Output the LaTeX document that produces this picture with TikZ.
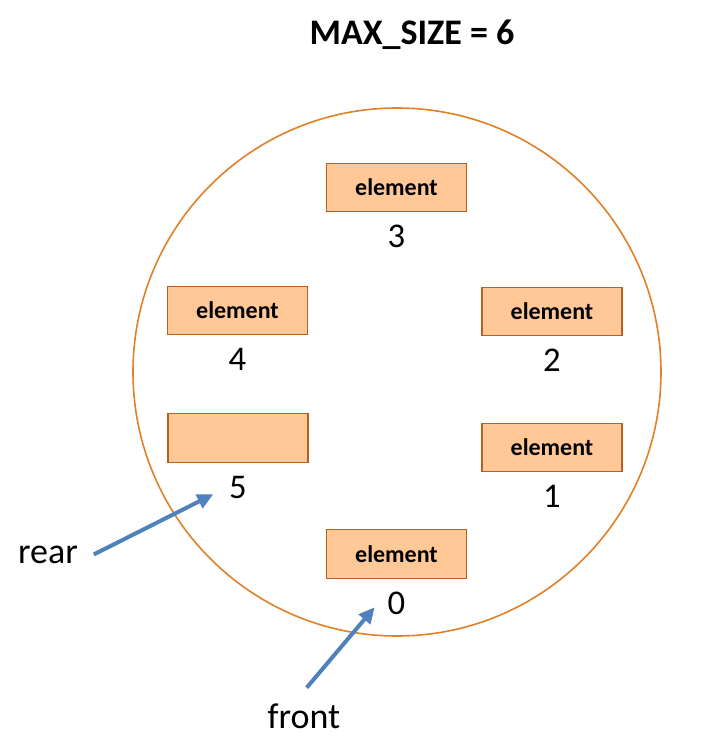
\documentclass[tikz,border=0pt]{standalone}
\usepackage{fontspec}
\setmainfont{Carlito}
\usetikzlibrary{arrows.meta,positioning}

\definecolor{ringorange}{RGB}{226,128,40}
\definecolor{cellfill}{RGB}{255,200,150}
\definecolor{celledge}{RGB}{185,95,30}
\definecolor{pointerblue}{RGB}{79,129,189}

\begin{document}
\begin{tikzpicture}[
    x=0.75pt,y=-0.75pt,>=Latex,
    cell/.style={draw=celledge,thick,fill=cellfill,minimum width=105pt,minimum height=36.5pt,
      inner sep=0pt,font=\fontsize{18}{20}\selectfont\bfseries},
    idx/.style={font=\fontsize{26}{29}\selectfont,inner sep=1pt},
    pointer/.style={-{Triangle[length=12pt,width=11pt]},line width=3pt,pointerblue},
    labelnode/.style={font=\fontsize{27}{30}\selectfont,inner sep=1pt}
  ]
    \useasboundingbox (0,0) rectangle (724,751);

    % title and ring
    \node[font=\fontsize{27}{32}\selectfont\bfseries] (title) at (412,35) {MAX\_SIZE = 6};
    \draw[ringorange,line width=1.2pt] (397,372) circle[radius=198pt];

    % array cells with their indices
    \node[cell] (c3) at (396.5,187.5) {element};
    \node[idx,below=8.5pt of c3] (i3) {3};
    \node[cell] (c4) at (237.5,310.5) {element};
    \node[idx,below=8.5pt of c4] (i4) {4};
    \node[cell] (c2) at (552,311.5) {element};
    \node[idx,below=8.5pt of c2] (i2) {2};
    \node[cell] (c5) at (238,438) {};
    \node[idx,below=8.5pt of c5] (i5) {5};
    \node[cell] (c1) at (552,447.5) {element};
    \node[idx,below=8.5pt of c1] (i1) {1};
    \node[cell] (c0) at (396.5,554) {element};
    \node[idx,below=8.5pt of c0] (i0) {0};

    % rear and front pointers
    \node[labelnode] (rear) at (48,555) {rear};
    \node[labelnode] (front) at (304,716) {front};
    \draw[pointer,shorten <=12pt,shorten >=12pt] ([yshift=-5pt]rear.east) -- (i5.west);
    \draw[pointer,shorten <=14pt,shorten >=4pt] ([xshift=-7pt]front.north) -- ([xshift=-6pt]i0.west);
\end{tikzpicture}
\end{document}
